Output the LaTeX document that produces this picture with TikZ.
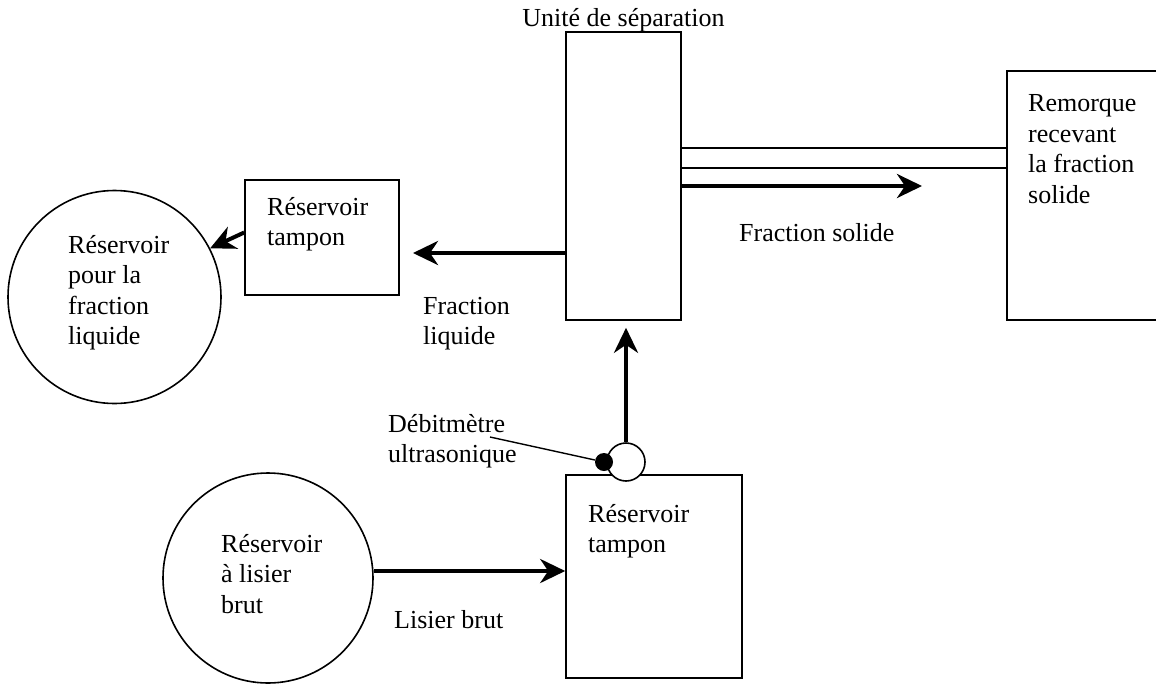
\documentclass[tikz,border=0pt]{standalone}
\usepackage{fontspec}
\setmainfont{Liberation Serif}
\usetikzlibrary{arrows.meta, positioning, calc}

\begin{document}
\begin{tikzpicture}[
  x=1pt, y=-1pt,
  font=\fontsize{26}{30.5}\selectfont,
  tank/.style   = {draw, line width=1.6pt, inner sep=0pt},
  vessel/.style = {draw, circle, line width=1.6pt, inner sep=0pt},
  txt/.style    = {inner sep=0pt, anchor=base west, align=left},
  flow/.style   = {-{Stealth[length=25pt, width=24pt, inset=8pt]}, line width=4pt},
  belt/.style   = {line width=1.4pt},
]
\useasboundingbox (0,0) rectangle (1156,683);
\clip (0,0) rectangle (1156,683);

% Top row -- separation unit, trailer, liquid side
\node[tank, minimum width=115pt, minimum height=288pt] (unit) at (623.5,176) {};
\node[tank, minimum width=200pt, minimum height=249pt] (trailer) at (1107,195.5) {};
\node[tank, minimum width=154pt, minimum height=115pt] (buftop) at (322,237.5) {};
\node[vessel, minimum size=213pt] (liqtank) at (114.5,297) {};

% Bottom row -- raw slurry and buffer tank
\node[vessel, minimum size=210pt] (rawtank) at (268,578) {};
\node[tank, minimum width=176pt, minimum height=203pt] (bufbot) at (654,576.5) {};

% Flow meter
\node[vessel, fill=white, minimum size=38pt] (meter) at (626,462) {};
\node[circle, fill=black, inner sep=0pt, minimum size=18pt] (meterdot) at (604,462) {};

% Texts (base = last line)
\node[txt, anchor=base] (unitlbl) at ([yshift=5pt]unit.north) {Unité de séparation};
\node[txt] (trailertxt) at (1028,203) {Remorque\\recevant\\la fraction\\solide};
\node[txt] (buftoptxt)  at (267,245.5) {Réservoir\\tampon};
\node[txt] (liqtxt)     at (68,344.5) {Réservoir\\pour la\\fraction\\liquide};
\node[txt] (rawtxt)     at (221,613) {Réservoir\\à lisier\\brut};
\node[txt] (bufbottxt)  at (588,552.5) {Réservoir\\tampon};
\node[txt] (solidlbl)   at (739,241) {Fraction solide};
\node[txt] (liqlbl)     at (423,344.5) {Fraction\\liquide};
\node[txt] (meterlbl)   at (388,462.5) {Débitmètre\\ultrasonique};
\node[txt] (rawlbl)     at (394,628) {Lisier brut};

% Connectors
\coordinate (beltA) at (0,148);
\coordinate (beltB) at (0,168);
\coordinate (solidtip) at (922,186);
\coordinate (liqtip) at (413,253);
\coordinate (lead) at (490,437);

\draw[belt] (unit.east |- beltA) -- (trailer.west |- beltA);
\draw[belt] (unit.east |- beltB) -- (trailer.west |- beltB);
\draw[flow] (unit.east |- solidtip) -- (solidtip);
\draw[flow] (unit.west |- liqtip) -- (liqtip);
\draw[flow] ([yshift=5pt]buftop.west) -- (liqtank.27);
\draw[flow, shorten >=7pt] (meter.north) -- (meter.north |- unit.south);
\draw[flow] ([yshift=7pt]rawtank.east) -- ([yshift=7pt]rawtank.east -| bufbot.west);
\draw[belt] (lead) -- (meterdot);
\end{tikzpicture}
\end{document}
